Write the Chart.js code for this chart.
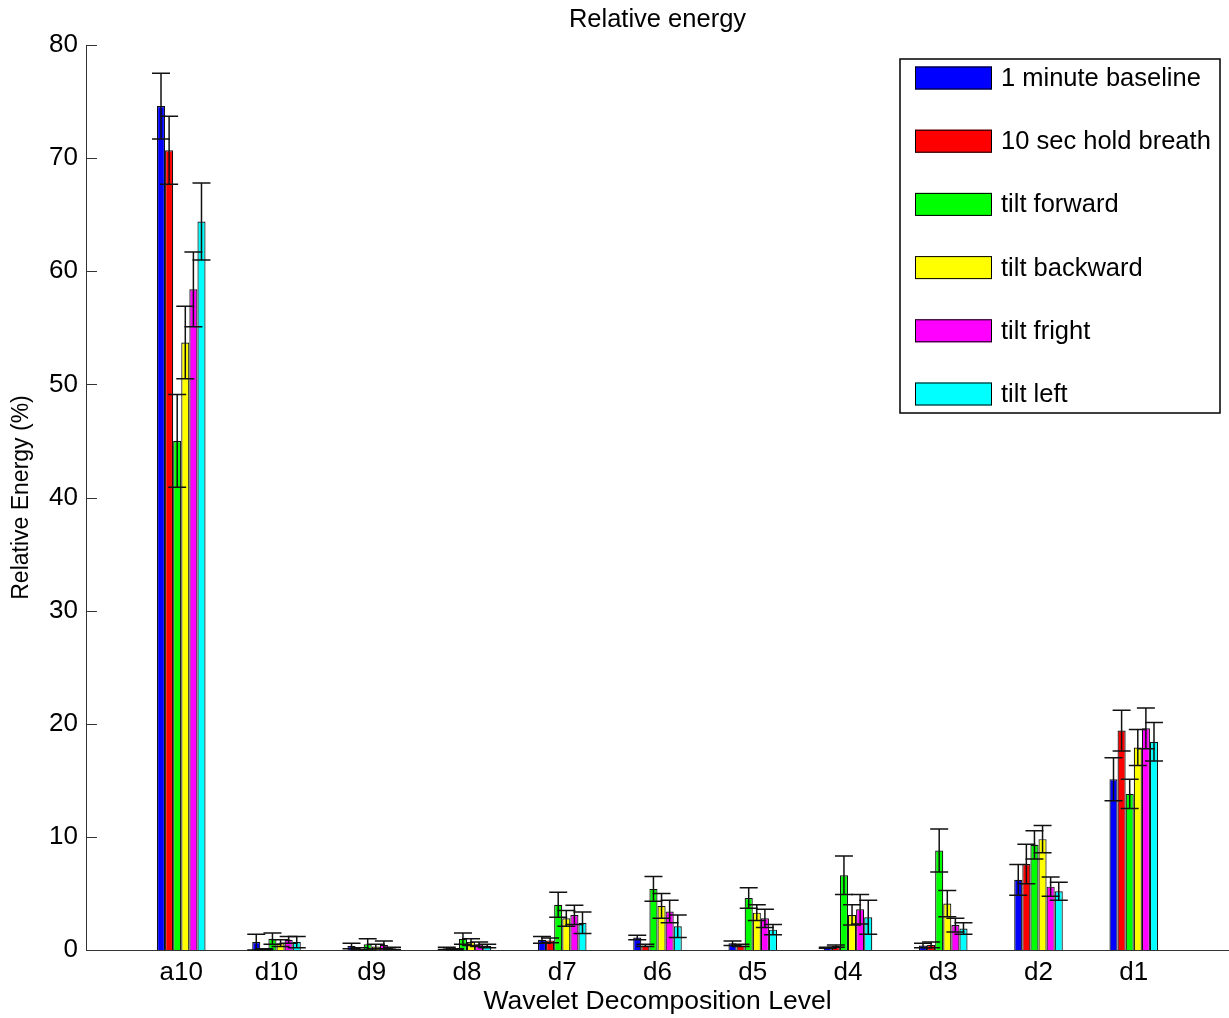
<!DOCTYPE html>
<html lang="en">
<head>
    <meta charset="utf-8">
    <title>Relative energy</title>
    <script src="https://cdn.jsdelivr.net/npm/chart.js@4.4.0/dist/chart.umd.min.js"></script>
    <style>
        html, body { margin: 0; padding: 0; background: #fff; }
        #wrap { width: 1229px; height: 1018px; }
    </style>
</head>
<body>
    <div id="wrap"><canvas id="myChart" width="1229" height="1018"></canvas></div>
    <script>
        // wavelet levels on the x axis
        const levels = ['a10', 'd10', 'd9', 'd8', 'd7', 'd6', 'd5', 'd4', 'd3', 'd2', 'd1'];
        const seriesNames = ['1 minute baseline', '10 sec hold breath', 'tilt forward', 'tilt backward', 'tilt fright', 'tilt left'];
        const seriesColors = ['#0000ff', '#ff0000', '#00ff00', '#ffff00', '#ff00ff', '#00ffff'];
        const yTicks = [0, 10, 20, 30, 40, 50, 60, 70, 80];

        // mean relative energy (%)
        const baseline   = [74.6, 0.7, 0.35, 0.15, 0.9, 1.1, 0.6, 0.2, 0.4, 6.2, 15.1];
        const holdBreath = [70.7, 0.05, 0.1, 0.05, 0.85, 0.4, 0.4, 0.35, 0.45, 7.6, 19.4];
        const tiltFwd    = [45.0, 1.0, 0.5, 1.0, 4.0, 5.4, 4.6, 6.6, 8.8, 9.3, 13.8];
        const tiltBack   = [53.7, 0.6, 0.3, 0.7, 2.8, 3.9, 3.3, 3.1, 4.1, 9.8, 17.9];
        const tiltRight  = [58.4, 0.9, 0.45, 0.5, 3.1, 3.4, 2.8, 3.6, 2.2, 5.6, 19.6];
        const tiltLeft   = [64.4, 0.7, 0.15, 0.35, 2.4, 2.1, 1.8, 2.9, 1.9, 5.2, 18.4];

        // error bar half lengths
        const errBaseline   = [2.9, 0.7, 0.25, 0.1, 0.3, 0.2, 0.2, 0.05, 0.2, 1.35, 1.9];
        const errHoldBreath = [3.0, 0.05, 0.1, 0.05, 0.2, 0.1, 0.1, 0.1, 0.25, 1.75, 1.8];
        const errTiltFwd    = [4.1, 0.5, 0.5, 0.5, 1.1, 1.1, 0.9, 1.7, 1.9, 1.25, 1.3];
        const errTiltBack   = [3.2, 0.3, 0.2, 0.3, 0.7, 1.1, 0.7, 0.9, 1.15, 1.2, 1.6];
        const errTiltRight  = [3.3, 0.3, 0.35, 0.2, 0.85, 1.0, 0.8, 1.3, 0.6, 0.85, 1.8];
        const errTiltLeft   = [3.4, 0.5, 0.1, 0.15, 0.95, 1.0, 0.45, 1.5, 0.5, 0.8, 1.7];

        const allValues = [baseline, holdBreath, tiltFwd, tiltBack, tiltRight, tiltLeft];
        const allErrors = [errBaseline, errHoldBreath, errTiltFwd, errTiltBack, errTiltRight, errTiltLeft];

        const FONT = '"Liberation Sans", Arial, Helvetica, sans-serif';

        // error bars drawn on top of the bars
        const errorBarPlugin = {
            id: 'errorBars',
            afterDatasetsDraw(chart) {
                const ctx = chart.ctx;
                const y = chart.scales.y;
                ctx.save();
                ctx.strokeStyle = '#111';
                ctx.lineWidth = 1.5;
                chart.data.datasets.forEach((ds, i) => {
                    const meta = chart.getDatasetMeta(i);
                    meta.data.forEach((bar, j) => {
                        const v = allValues[i][j], e = allErrors[i][j];
                        const top = y.getPixelForValue(v + e);
                        const bot = y.getPixelForValue(Math.max(0, v - e));
                        const half = 9;
                        ctx.beginPath();
                        ctx.moveTo(bar.x, top); ctx.lineTo(bar.x, bot);
                        ctx.moveTo(bar.x - half, top); ctx.lineTo(bar.x + half, top);
                        ctx.moveTo(bar.x - half, bot); ctx.lineTo(bar.x + half, bot);
                        ctx.stroke();
                    });
                });
                ctx.restore();
            }
        };

        // matlab style inward ticks on the y axis
        const inwardTicks = {
            id: 'inwardTicks',
            afterDraw(chart) {
                const ctx = chart.ctx;
                const y = chart.scales.y;
                const left = chart.chartArea.left;
                ctx.save();
                ctx.strokeStyle = '#333';
                ctx.lineWidth = 1;
                yTicks.forEach(t => {
                    const py = Math.round(y.getPixelForValue(t)) + 0.5;
                    ctx.beginPath();
                    ctx.moveTo(left, py);
                    ctx.lineTo(left + 11, py);
                    ctx.stroke();
                });
                ctx.restore();
            }
        };

        // boxed legend inside the axes, upper right
        const boxLegend = {
            id: 'boxLegend',
            afterDraw(chart) {
                const ctx = chart.ctx;
                const bx = 900, by = 59, bw = 320, bh = 354;
                ctx.save();
                ctx.fillStyle = '#fff';
                ctx.fillRect(bx, by, bw, bh);
                ctx.strokeStyle = '#000';
                ctx.lineWidth = 1.5;
                ctx.strokeRect(bx, by, bw, bh);
                ctx.font = '25.5px ' + FONT;
                ctx.textBaseline = 'middle';
                seriesNames.forEach((name, i) => {
                    const cy = 78 + i * 63.2;
                    ctx.fillStyle = seriesColors[i];
                    ctx.fillRect(915, cy - 11.5, 77, 23);
                    ctx.lineWidth = 1;
                    ctx.strokeStyle = '#000';
                    ctx.strokeRect(915.5, cy - 11, 76, 22);
                    ctx.fillStyle = '#000';
                    ctx.fillText(name, 1001, cy + 1);
                });
                ctx.restore();
            }
        };

        const datasets = seriesNames.map((name, i) => ({
            label: name,
            data: allValues[i].map((v, j) => ({ x: j + 1, y: v })),
            backgroundColor: seriesColors[i],
            borderColor: '#111',
            borderWidth: 1.2,
            borderSkipped: 'start'
        }));

        const chart = new Chart(document.getElementById('myChart'), {
            type: 'bar',
            data: { datasets: datasets },
            options: {
                responsive: false,
                animation: false,
                categoryPercentage: 0.51,
                barPercentage: 1.0,
                layout: { padding: { left: 0, right: 0, top: 0, bottom: 0 } },
                plugins: {
                    legend: { display: false },
                    tooltip: { enabled: false },
                    title: {
                        display: true,
                        fullSize: false,
                        text: 'Relative energy',
                        color: '#000',
                        font: { family: FONT, size: 25.5, weight: 'normal' },
                        padding: { top: 5, bottom: 9.4 }
                    }
                },
                scales: {
                    x: {
                        type: 'linear',
                        min: 0,
                        max: 12,
                        offset: false,
                        grid: { display: false, drawTicks: false, offset: false },
                        border: { display: true, color: '#333', width: 1 },
                        afterFit(scale) {
                            scale.height = 68;
                            scale.paddingLeft = 0;
                            scale.paddingRight = 0;
                        },
                        ticks: {
                            stepSize: 1,
                            autoSkip: false,
                            maxRotation: 0,
                            padding: 7,
                            color: '#000',
                            font: { family: FONT, size: 26 },
                            callback: (v) => levels[v - 1] || ''
                        },
                        title: {
                            display: true,
                            text: 'Wavelet Decomposition Level',
                            color: '#000',
                            font: { family: FONT, size: 26.5 },
                            padding: { top: 0, bottom: 0 }
                        }
                    },
                    y: {
                        min: 0,
                        max: 80,
                        grid: { display: false, drawTicks: false },
                        border: { display: true, color: '#333', width: 1 },
                        afterFit(scale) { scale.width = 86; },
                        ticks: {
                            stepSize: 10,
                            padding: 8,
                            color: '#000',
                            font: { family: FONT, size: 26 }
                        },
                        title: {
                            display: true,
                            text: 'Relative Energy (%)',
                            color: '#000',
                            font: { family: FONT, size: 23 },
                            padding: { top: 8, bottom: 0 }
                        }
                    }
                }
            },
            plugins: [errorBarPlugin, inwardTicks, boxLegend]
        });
    </script>
</body>
</html>
